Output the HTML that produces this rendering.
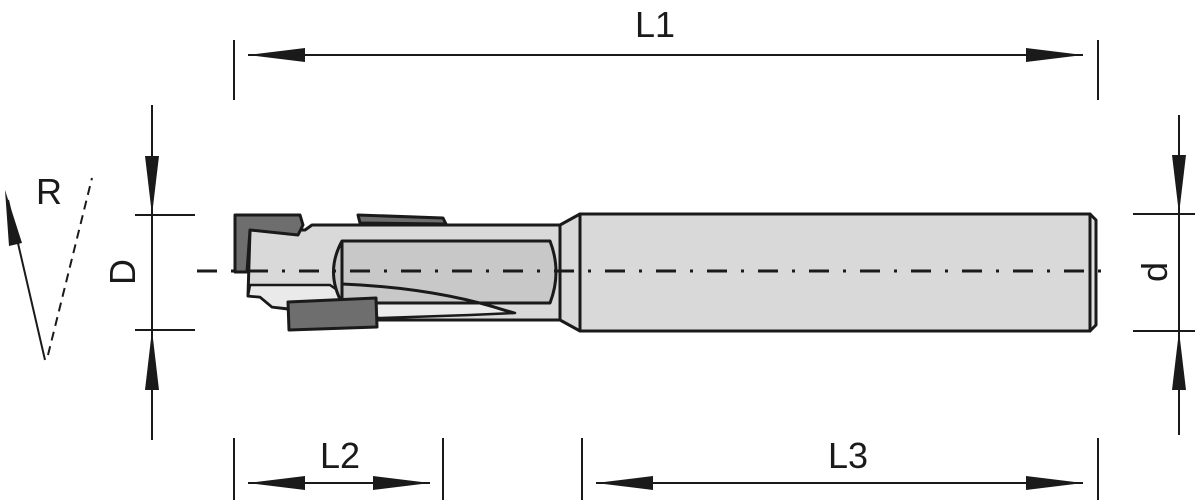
<!DOCTYPE html>
<html><head><style>body{margin:0;background:#fff}svg{display:block}text{font-family:"Liberation Sans",sans-serif;fill:#1a1a1a}</style></head><body>
<svg width="1197" height="500" viewBox="0 0 1197 500" xmlns="http://www.w3.org/2000/svg">
<g stroke="#1a1a1a" stroke-width="2" fill="none">
<line x1="234" y1="40" x2="234" y2="100"/><line x1="1098" y1="40" x2="1098" y2="100"/>
<line x1="248" y1="55" x2="1083" y2="55"/>
<line x1="152" y1="105" x2="152" y2="440"/>
<line x1="135" y1="215" x2="195" y2="215"/><line x1="135" y1="330" x2="195" y2="330"/>
<line x1="1179" y1="115" x2="1179" y2="435"/>
<line x1="1133" y1="214" x2="1195" y2="214"/><line x1="1133" y1="331" x2="1195" y2="331"/>
<line x1="234" y1="438" x2="234" y2="500"/><line x1="443" y1="438" x2="443" y2="500"/>
<line x1="582" y1="438" x2="582" y2="500"/><line x1="1098" y1="438" x2="1098" y2="500"/>
<line x1="248" y1="483" x2="430" y2="483"/><line x1="596" y1="483" x2="1083" y2="483"/>
<line x1="45" y1="360" x2="8" y2="200"/>
<line x1="48" y1="355" x2="92" y2="178" stroke-dasharray="9,6"/>
</g>
<g fill="#1a1a1a">
<polygon points="248,55 305,48 305,62"/><polygon points="1083,55 1026,48 1026,62"/>
<polygon points="152,215 145,156 159,156"/><polygon points="152,330 145,390 159,390"/>
<polygon points="1179,214 1172,155 1186,155"/><polygon points="1179,331 1172,390 1186,390"/>
<polygon points="248,483 305,476 305,490"/><polygon points="430,483 373,476 373,490"/>
<polygon points="596,483 653,476 653,490"/><polygon points="1083,483 1026,476 1026,490"/>
<polygon points="5,190 22,243 9,246"/>
</g>
<g stroke="#1a1a1a" stroke-width="3" stroke-linejoin="round">
<rect x="580" y="214" width="510" height="117" fill="#d9d9d9"/>
<polygon points="1090,214 1096,220 1096,325 1090,331" fill="#e0e0e0"/>
<polygon points="560,225 580,214 580,331 560,320" fill="#d9d9d9"/>
<polygon points="250,230 305,230 312,225 560,225 560,320 375,320 272,307 260,297 248,296" fill="#d9d9d9"/>
<polygon points="250,285 330,285 340,292 470,300 515,313 470,315 380,318 272,307 260,297 248,296" fill="#eaeaea" stroke-width="2.5"/>
<path d="M342,241 L550,241 Q562,272 550,303 L342,303 Q325,272 342,241 Z" fill="#c8c8c8"/>
<line x1="342" y1="241" x2="342" y2="303"/>
<path d="M342,284 Q440,288 513,313" fill="none"/>
<path d="M235,215 L300,215 L303,225 L298,235 L250,230 L247,272 L235,272 Z" fill="#6e6e6e"/>
<polygon points="358,215 443,218 446,224 360,223" fill="#6e6e6e"/>
<polygon points="288,302 376,298 377,327 289,330" fill="#6e6e6e"/>
</g>
<line x1="197" y1="271" x2="1110" y2="271" stroke="#1a1a1a" stroke-width="3" stroke-dasharray="20,14,3,14"/>
<text x="655" y="37" font-size="36" text-anchor="middle">L1</text>
<text x="340" y="468" font-size="36" text-anchor="middle">L2</text>
<text x="848" y="468" font-size="36" text-anchor="middle">L3</text>
<text x="49" y="204" font-size="36" text-anchor="middle">R</text>
<text x="0" y="0" font-size="36" text-anchor="middle" transform="translate(135,272) rotate(-90)">D</text>
<text x="0" y="0" font-size="36" text-anchor="middle" transform="translate(1167,272) rotate(-90)">d</text>
</svg>
</body></html>
